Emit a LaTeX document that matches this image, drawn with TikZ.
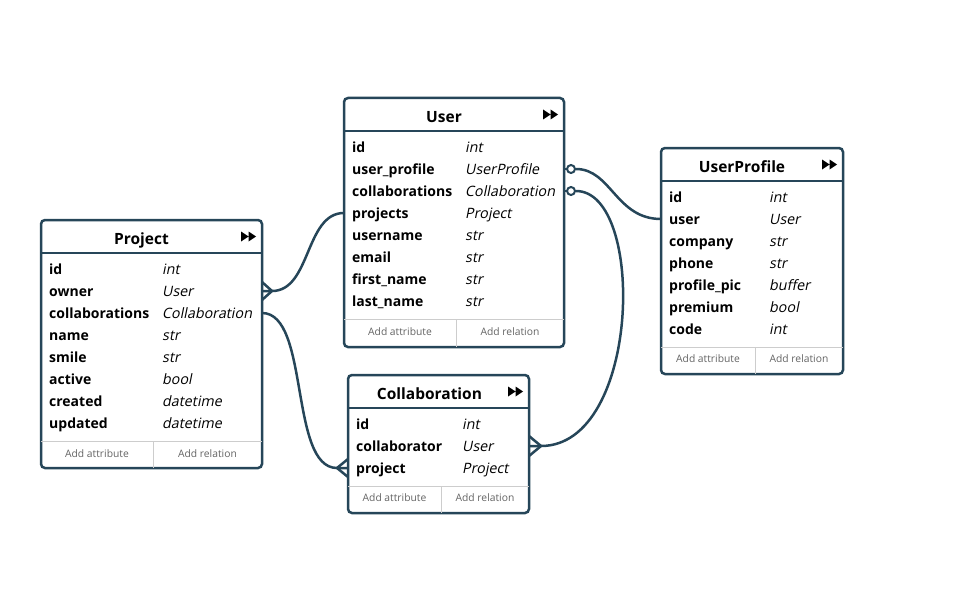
\documentclass[tikz,border=0pt]{standalone}
\usepackage{fontspec}
\setmainfont{Open Sans}
\newfontfamily\slantfont[FakeSlant=0.2]{Open Sans}
\usetikzlibrary{calc}
\definecolor{erline}{RGB}{38,70,89}
\definecolor{erfoot}{RGB}{205,205,205}
\definecolor{ergray}{RGB}{100,100,100}

\begin{document}
\begin{tikzpicture}[x=1pt, y=-1pt,
		entity/.style={draw=erline, line width=2.5pt, rounded corners=4pt, inner sep=0pt, outer sep=0pt, fill=white},
		title/.style={inner sep=0pt, text height=15.6pt, text depth=0pt, font=\fontsize{15.5}{17}\selectfont\bfseries},
		attr/.style={anchor=west, inner sep=0pt, text height=13pt, text depth=2pt, font=\fontsize{14}{16}\selectfont\bfseries},
		kind/.style={anchor=west, inner sep=0pt, text height=13pt, text depth=2pt, font=\fontsize{14.3}{16}\slantfont},
		footer/.style={text=ergray, inner sep=0pt, font=\fontsize{10.3}{12}\selectfont},
		hline/.style={draw=erline, line width=2.5pt},
		footline/.style={draw=erfoot, line width=0.8pt},
		conn/.style={draw=erline, line width=2.5pt, line join=round},
		ring/.style={circle, draw=erline, line width=2pt, fill=white, inner sep=0pt, minimum size=8pt},
		icon/.style={fill=black}]

	\useasboundingbox (0,0) rectangle (955,591);

	% User
	\node[entity, minimum width=220pt, minimum height=249pt] (user) at (454,222.5) {};
	\draw[hline] (344,131) -- (564,131);
	\node[title] (user-title) at (444,114.5) {User};
	\fill[icon] (543,109.5) -- (550.5,114.5) -- (543,119.5) -- cycle (550.5,109.5) -- (558,114.5) -- (550.5,119.5) -- cycle;
	\foreach \a/\t [count=\i] in {id/int, user\_profile/UserProfile, collaborations/Collaboration, projects/Project, username/str, email/str, first\_name/str, last\_name/str}
	{
		\node[attr] (user-\i) at (352,125+22*\i) {\a};
		\node[kind] (user-t\i) at (465,125+22*\i) {\t};
	}
	\draw[footline] (344,319) -- (564,319) (456,319) -- (456,347);
	\node[footer] (user-addattr) at (400,332) {Add attribute};
	\node[footer] (user-addrel) at (510,332) {Add relation};

	% Project
	\node[entity, minimum width=221pt, minimum height=248pt] (project) at (151.5,344) {};
	\draw[hline] (41,253) -- (262,253);
	\node[title] (project-title) at (141.5,236.5) {Project};
	\fill[icon] (241,231.5) -- (248.5,236.5) -- (241,241.5) -- cycle (248.5,231.5) -- (256,236.5) -- (248.5,241.5) -- cycle;
	\foreach \a/\t [count=\i] in {id/int, owner/User, collaborations/Collaboration, name/str, smile/str, active/bool, created/datetime, updated/datetime}
	{
		\node[attr] (project-\i) at (49,247+22*\i) {\a};
		\node[kind] (project-t\i) at (162,247+22*\i) {\t};
	}
	\draw[footline] (41,441) -- (262,441) (153,441) -- (153,468);
	\node[footer] (project-addattr) at (97,454) {Add attribute};
	\node[footer] (project-addrel) at (207.5,454) {Add relation};

	% UserProfile
	\node[entity, minimum width=182pt, minimum height=226pt] (profile) at (752,261) {};
	\draw[hline] (661,181) -- (843,181);
	\node[title] (profile-title) at (742,164.5) {UserProfile};
	\fill[icon] (822,159.5) -- (829.5,164.5) -- (822,169.5) -- cycle (829.5,159.5) -- (837,164.5) -- (829.5,169.5) -- cycle;
	\foreach \a/\t [count=\i] in {id/int, user/User, company/str, phone/str, profile\_pic/buffer, premium/bool, code/int}
	{
		\node[attr] (profile-\i) at (669,175+22*\i) {\a};
		\node[kind] (profile-t\i) at (769,175+22*\i) {\t};
	}
	\draw[footline] (661,347) -- (843,347) (755,347) -- (755,374);
	\node[footer] (profile-addattr) at (708,359) {Add attribute};
	\node[footer] (profile-addrel) at (799,359) {Add relation};

	% Collaboration
	\node[entity, minimum width=181pt, minimum height=138pt] (collab) at (438.5,444) {};
	\draw[hline] (348,408) -- (529,408);
	\node[title] (collab-title) at (429.5,391.5) {Collaboration};
	\fill[icon] (508,386.5) -- (515.5,391.5) -- (508,396.5) -- cycle (515.5,386.5) -- (523,391.5) -- (515.5,396.5) -- cycle;
	\foreach \a/\t [count=\i] in {id/int, collaborator/User, project/Project}
	{
		\node[attr] (collab-\i) at (356,402+22*\i) {\a};
		\node[kind] (collab-t\i) at (462,402+22*\i) {\t};
	}
	\draw[footline] (348,486) -- (529,486) (441,486) -- (441,513);
	\node[footer] (collab-addattr) at (394.5,498) {Add attribute};
	\node[footer] (collab-addrel) at (485,498) {Add relation};

	% relations
	\coordinate (cf1) at ($(project.east |- project-2)+(10,0)$);
	\draw[conn] (user.west |- user-4) .. controls +(-39,0) and +(39,0) .. (cf1) -- (project.east |- project-2);
	\draw[conn] ($(cf1)+(-10,-9)$) -- (cf1) -- ($(cf1)+(-10,9)$);

	\coordinate (cf2) at ($(collab.west |- collab-3)+(-11,0)$);
	\draw[conn] (project.east |- project-3) .. controls +(48,0) and +(-48,0) .. (cf2) -- (collab.west |- collab-3);
	\draw[conn] ($(cf2)+(11,-9)$) -- (cf2) -- ($(cf2)+(11,9)$);

	\node[ring] (o1) at ($(user.east |- user-2)+(7,0)$) {};
	\draw[conn] (user.east |- user-2) -- (o1);
	\draw[conn] (o1) .. controls +(40,0) and +(-45,0) .. (profile.west |- profile-2);

	\coordinate (cf4) at ($(collab.east |- collab-2)+(12,0)$);
	\node[ring] (o2) at ($(user.east |- user-3)+(7,0)$) {};
	\draw[conn] (user.east |- user-3) -- (o2);
	\draw[conn] (o2) .. controls +(75,0) and +(100,0) .. (cf4) -- (collab.east |- collab-2);
	\draw[conn] ($(cf4)+(-12,-10)$) -- (cf4) -- ($(cf4)+(-12,10)$);
\end{tikzpicture}
\end{document}
